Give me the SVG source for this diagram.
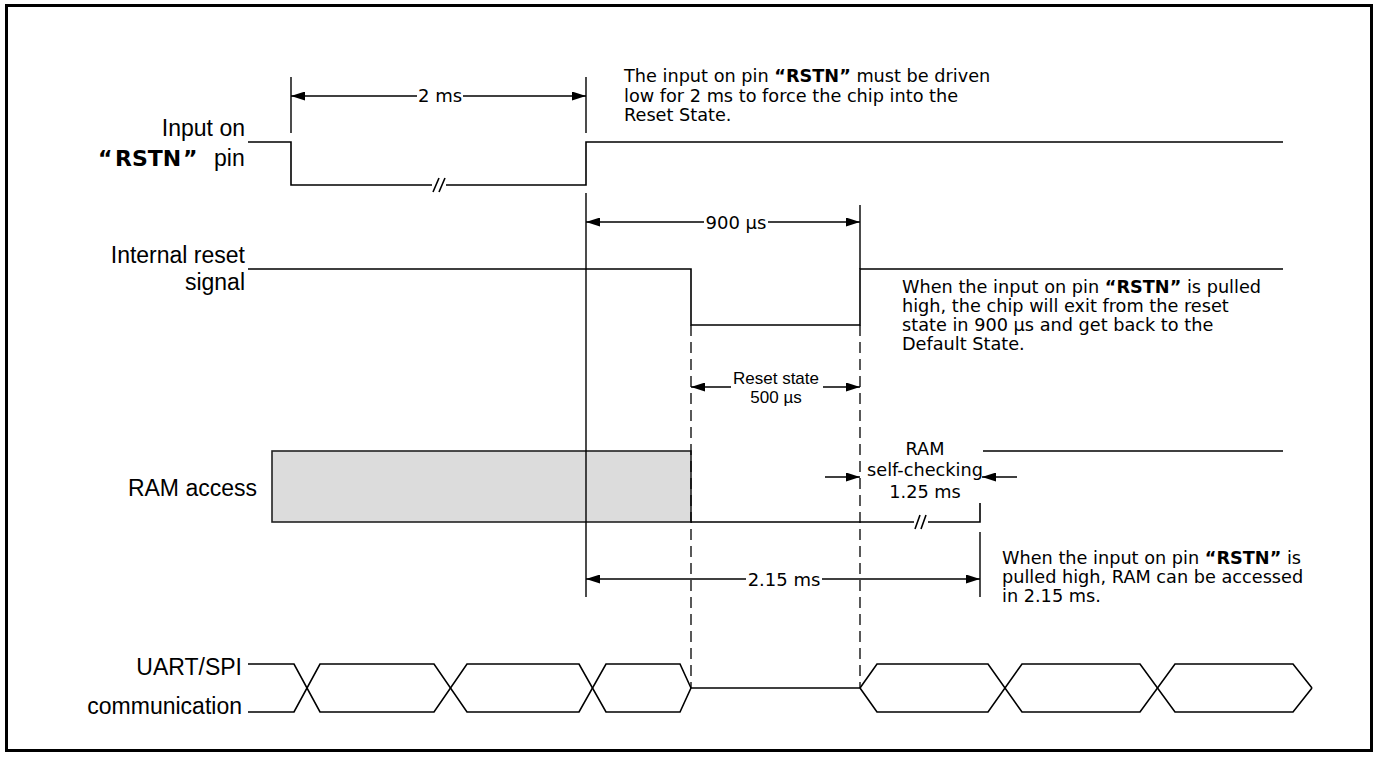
<svg xmlns="http://www.w3.org/2000/svg" width="1378" height="758" viewBox="0 0 1378 758">
<style>
.lbl{font-family:"Liberation Sans",Arial,sans-serif;font-size:23px;fill:#000}
.note{font-family:"DejaVu Sans",Verdana,sans-serif;font-size:17.7px;fill:#000}
.dim{font-family:"DejaVu Sans",Verdana,sans-serif;font-size:18px;fill:#000}
.sm{font-family:"Liberation Sans",Arial,sans-serif;font-size:17px;fill:#000}
.b{font-weight:bold}
.q{font-family:"DejaVu Sans",Verdana,sans-serif;font-weight:bold;font-size:22px}
.sig{fill:none;stroke:#000;stroke-width:1.6}
.dash{fill:none;stroke:#000;stroke-width:1.3;stroke-dasharray:11 6}
.arr{fill:none;stroke:#000;stroke-width:1.4}
</style>
<defs>
<marker id="ah" markerUnits="userSpaceOnUse" markerWidth="14" markerHeight="9" refX="14" refY="4.5" orient="auto-start-reverse">
<path d="M0,0 L14,4.5 L0,9 Z" fill="#000"/>
</marker>
</defs>
<rect x="6.5" y="5.5" width="1365" height="745" fill="#fff" stroke="#000" stroke-width="3"/>

<g id="rstn">
<text class="lbl" x="245" y="136" text-anchor="end">Input on</text>
<text class="lbl" y="166"><tspan class="q" x="98">“</tspan><tspan class="q" x="115">RSTN</tspan><tspan class="q" x="183">”</tspan><tspan x="214">pin</tspan></text>
<path class="sig" d="M248,142 H291 V185 H432 M446,185 H586 V142 H1283"/>
<path class="sig" d="M433,192 L439,178 M439,192 L445,178"/>
</g>

<g id="internal-reset">
<text class="lbl" x="245" y="263" text-anchor="end">Internal reset</text>
<text class="lbl" x="245" y="290" text-anchor="end">signal</text>
<path class="sig" d="M248,269 H691 V325 H860 V269 H1283"/>
</g>

<g id="ram-access">
<text class="lbl" x="257" y="496" text-anchor="end">RAM access</text>
<rect x="272" y="451" width="419" height="71" fill="#dcdcdc" stroke="#222" stroke-width="1.6"/>
<path class="sig" d="M691,522 H914 M928,522 H980 V503"/>
<path class="sig" d="M915,529 L920,515 M921,529 L926,515"/>
<path class="sig" d="M983,451 H1283"/>
</g>

<g id="uart">
<text class="lbl" x="242" y="675" text-anchor="end">UART/SPI</text>
<text class="lbl" x="242" y="714" text-anchor="end">communication</text>
<path class="sig" d="M248,664 H294 L320,712 H434 L467,664 H579 L606,712 H680 L691,688"/>
<path class="sig" d="M248,712 H294 L320,664 H434 L467,712 H579 L606,664 H680 L691,688"/>
<path class="sig" d="M691,688 H860"/>
<path class="sig" d="M860,688 L877,664 H988 L1022,712 H1140 L1175,664 H1293 L1312,688"/>
<path class="sig" d="M860,688 L877,712 H988 L1022,664 H1140 L1175,712 H1293 L1312,688"/>
</g>

<g id="connectors">
<path class="arr" d="M291,77 V133 M586,77 V133 M586,193 V597 M860,205 V269 M980,532 V597"/>
<path class="dash" d="M691,325 V688 M860,325 V688"/>
<path class="arr" d="M291,96 H586" marker-start="url(#ah)" marker-end="url(#ah)"/>
<path class="arr" d="M586,222 H860" marker-start="url(#ah)" marker-end="url(#ah)"/>
<path class="arr" d="M691,387 H860" marker-start="url(#ah)" marker-end="url(#ah)"/>
<path class="arr" d="M825,477 H860" marker-end="url(#ah)"/>
<path class="arr" d="M1017,477 H982" marker-end="url(#ah)"/>
<path class="arr" d="M586,579 H980" marker-start="url(#ah)" marker-end="url(#ah)"/>
</g>

<g id="dim-labels">
<rect x="417" y="86" width="46" height="18" fill="#fff"/>
<text class="dim" x="440" y="102" text-anchor="middle">2 ms</text>
<rect x="704" y="212" width="64" height="20" fill="#fff"/>
<text class="dim" x="736" y="229" text-anchor="middle">900 µs</text>
<rect x="731" y="370" width="92" height="20" fill="#fff"/>
<text class="sm" x="776" y="384" text-anchor="middle">Reset state</text>
<text class="sm" x="776" y="403" text-anchor="middle">500 µs</text>
<text class="note" x="925" y="455" text-anchor="middle">RAM</text>
<text class="note" x="925" y="476" text-anchor="middle">self-checking</text>
<text class="note" x="925" y="498" text-anchor="middle">1.25 ms</text>
<rect x="746" y="569" width="76" height="20" fill="#fff"/>
<text class="dim" x="784" y="586" text-anchor="middle">2.15 ms</text>
</g>

<g id="note-1" class="note">
<text x="624" y="82">The input on pin <tspan class="b">“RSTN”</tspan> must be driven</text>
<text x="624" y="101.5">low for 2 ms to force the chip into the</text>
<text x="624" y="121">Reset State.</text>
</g>

<g id="note-2" class="note">
<text x="902" y="292.5">When the input on pin <tspan class="b">“RSTN”</tspan> is pulled</text>
<text x="902" y="311.5">high, the chip will exit from the reset</text>
<text x="902" y="331">state in 900 µs and get back to the</text>
<text x="902" y="350">Default State.</text>
</g>

<g id="note-3" class="note">
<text x="1002" y="564">When the input on pin <tspan class="b">“RSTN”</tspan> is</text>
<text x="1002" y="583">pulled high, RAM can be accessed</text>
<text x="1002" y="602">in 2.15 ms.</text>
</g>
</svg>
